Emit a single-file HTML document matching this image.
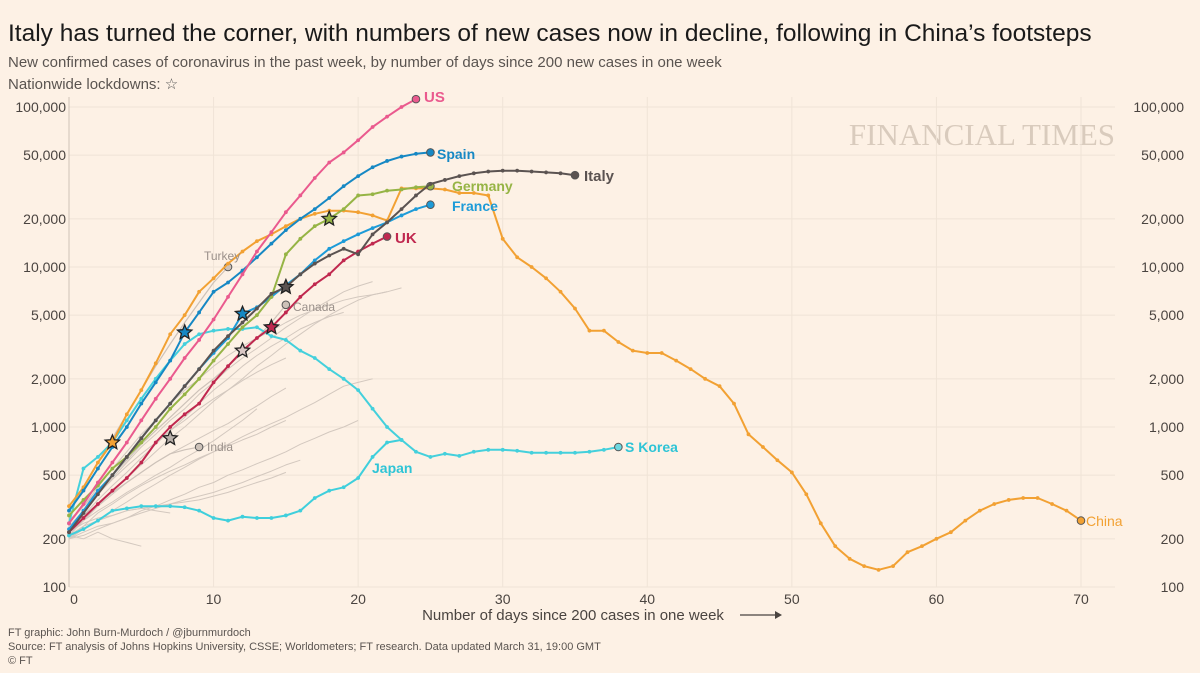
<!DOCTYPE html>
<html><head><meta charset="utf-8">
<style>
html,body{margin:0;padding:0;background:#fdf1e5;}
body{width:1200px;height:673px;overflow:hidden;font-family:"Liberation Sans",sans-serif;}
svg{display:block}
</style></head>
<body>
<svg id="chart" width="1200" height="673" viewBox="0 0 1200 673">
<rect width="1200" height="673" fill="#fdf1e5"/>
<text x="8" y="41" font-size="24.5" fill="#1a1a1a">Italy has turned the corner, with numbers of new cases now in decline, following in China’s footsteps</text>
<text x="8" y="67" font-size="15" fill="#5a5450">New confirmed cases of coronavirus in the past week, by number of days since 200 new cases in one week</text>
<text x="8" y="89" font-size="15" fill="#5a5450">Nationwide lockdowns: <tspan font-size="15" fill="#555">☆</tspan></text>
<text x="1115" y="145" font-size="31" text-anchor="end" fill="#d9cbbd" font-family="Liberation Serif, serif">FINANCIAL TIMES</text>
<g id="grid"></g><g id="series"></g><g id="labels"></g>
<text x="573" y="620" font-size="15" fill="#4a4440" text-anchor="middle">Number of days since 200 cases in one week</text>
<line x1="740" y1="615" x2="775" y2="615" stroke="#4a4440" stroke-width="1.2"/>
<polygon points="775,611 782,615 775,619" fill="#4a4440"/>
<text x="8" y="636" font-size="11" fill="#5a5450">FT graphic: John Burn-Murdoch / @jburnmurdoch</text>
<text x="8" y="650" font-size="11" fill="#5a5450">Source: FT analysis of Johns Hopkins University, CSSE; Worldometers; FT research. Data updated March 31, 19:00 GMT</text>
<text x="8" y="664" font-size="11" fill="#5a5450">© FT</text>
</svg>
<script>
const xTicks=[0,10,20,30,40,50,60,70];
const yTicks=[100,200,500,1000,2000,5000,10000,20000,50000,100000];
const yTickLabels=["100","200","500","1,000","2,000","5,000","10,000","20,000","50,000","100,000"];
const gray1=[230,300,380,480,600,750,900,1100,1300,1600,1900,2300,2700,3100,3600,4200,4800,5500,6200,7000,7600,8100];
const gray2=[210,260,320,400,480,580,700,850,1000,1200,1450,1700,2000,2400,2800,3300,3800,4400,5000,5600,6200,6700,7000,7400];
const gray3=[250,320,420,550,700,900,1100,1400,1700,2000,2400,2800,3200,3600,4000,4500,5000,5400,5800,6200,6500,6700,7000];
const gray4=[220,280,350,430,520,640,780,950,1150,1400,1700,2000,2400,2800,3200,3600,4100,4500,4900,5200];
const gray5=[200,230,260,300,340,390,440,500,560,630,700,780,870,960,1050,1150,1280,1420,1600,1800,1900,2000];
const gray6=[200,210,230,250,270,300,320,350,380,420,450,500,540,590,640,700,780,850,930,1000,1100];
const gray7=[210,260,320,380,450,520,600,680,760,850,950,1050,1200,1350,1550,1750];
const gray8=[200,240,290,330,380,430,480,530,580,640,700,760,830,900,1000,1100];
const gray9=[240,300,380,470,570,680,800,950,1100,1300,1500,1700,1950,2200,2450,2700];
const gray10=[220,260,300,340,390,440,500,560,640,720,820,950,1100,1300];
const gray11=[200,220,240,250,270,290,310,330,350,370,390,420,450,490,530,580,620];
const gray12=[210,240,260,280,300,310,320,330,340,350,370,390,420,450,480,520];
const gray13=[210,200,220,200,190,180];
const gray14=[220,250,270,280,300,310,300,290];
const turkey=[300,420,600,850,1200,1700,2400,3300,4500,6000,8000,10000];
const india=[230,280,330,390,450,520,600,680,720,750];
const canada=[260,320,400,500,620,780,950,1150,1400,1700,2000,2400,2900,3600,4500,5800];
const japan=[210,230,260,300,310,320,320,320,315,300,270,260,275,270,270,280,300,360,400,420,480,650,800,830];
const skorea=[250,550,650,800,1100,1500,2000,2600,3300,3800,4000,4100,4100,4200,3700,3500,3000,2700,2300,2000,1700,1300,1000,830,700,650,680,660,700,720,720,710,690,690,690,690,700,720,750];
const china=[320,420,600,800,1200,1700,2500,3800,5000,7000,8500,10500,12500,14500,16000,18000,20000,21500,22500,22500,22000,21000,19500,31000,31000,31000,30500,29000,29000,28000,15000,11500,10000,8500,7000,5500,4000,4000,3400,3000,2900,2900,2600,2300,2000,1800,1400,900,750,620,520,380,250,180,150,135,128,135,165,180,200,220,260,300,330,350,360,360,330,300,260];
const uk=[220,270,330,400,480,600,800,1000,1200,1400,1900,2400,3000,3600,4200,5200,6500,7800,9000,11000,12500,14000,15500];
const france=[230,300,400,500,650,850,1100,1400,1800,2300,2900,3600,5100,5600,6500,7700,9000,11000,13000,14500,16000,17500,19000,21000,23000,24500];
const germany=[280,350,430,550,650,800,1000,1300,1600,2000,2600,3300,4200,5000,6500,12000,15000,18000,20000,23000,28000,28500,30000,30500,31500,32000];
const italy=[220,290,380,500,650,850,1100,1400,1800,2300,3000,3700,4500,5500,6800,7500,9000,10500,11800,13000,12000,16000,19000,23000,28000,33000,35000,37000,38500,39500,40000,40000,39500,39000,38500,37500];
const spain=[300,400,550,750,1000,1400,1900,2600,3900,5200,7000,8000,9500,11500,14000,17000,20000,23000,27000,32000,37000,42000,46000,49000,51000,52000];
const us=[250,330,450,600,800,1100,1500,2000,2700,3500,4700,6500,9000,12500,16500,22000,28000,36000,45000,52000,62000,75000,87000,100000,112000];
const starDays=[3,8,12,12,7,14,15,18];
const starValues=[800,3900,5100,3000,850,4200,7500,20000];
const starFills=["#f2a133","#1688c4","#1688c4","#d9c7c4","#b9b0aa","#c0284f","#5b5351","#96b445"];

const X0=69,XS=14.457,Y0=107,DEC=160;
function xs(d){return X0+d*XS;}
function ys(v){return Y0+(5-Math.log10(v))*DEC;}
const NS="http://www.w3.org/2000/svg";
function mk(tag,attrs,parent){const e=document.createElementNS(NS,tag);for(const k in attrs)e.setAttribute(k,attrs[k]);parent.appendChild(e);return e;}
const grid=document.getElementById('grid'),ser=document.getElementById('series'),lab=document.getElementById('labels');

yTicks.forEach((t,i)=>{
  const l=mk('line',{x1:X0,x2:1115,y1:ys(t),y2:ys(t),stroke:'#efe3d6','stroke-width':1},grid);
  
  
  const a=mk('text',{x:66,y:ys(t)+5,'font-size':14,fill:'#4a4440','text-anchor':'end'},grid);a.textContent=yTickLabels[i];
  
  
  const b=mk('text',{x:1184,y:ys(t)+5,'font-size':14,fill:'#4a4440','text-anchor':'end'},grid);b.textContent=yTickLabels[i];
  
  
});
xTicks.forEach(t=>{
  const l=mk('line',{x1:xs(t),x2:xs(t),y1:ys(100000)-10,y2:ys(100),stroke:t===0?'#cfc3b8':'#f0e4d7','stroke-width':1},grid);
  
  
  const a=mk('text',{x:xs(t)+(t===0?5:0),y:604,'font-size':14,fill:'#4a4440','text-anchor':'middle'},grid);a.textContent=String(t);
  
  
});

function line(vals,color,w,name,dots,end){
  const pts=vals.map((v,i)=>xs(i).toFixed(1)+','+ys(v).toFixed(1)).join(' ');
  const g=mk('g',{},ser);
  
  
  mk('polyline',{points:pts,fill:'none',stroke:color,'stroke-width':w,'stroke-linejoin':'round'},g);
  if(dots) vals.forEach((v,i)=>mk('circle',{cx:xs(i),cy:ys(v),r:1.9,fill:color},g));
  if(end){const n=vals.length-1;mk('circle',{cx:xs(n),cy:ys(vals[n]),r:3.8,fill:end,stroke:'#555','stroke-width':1},g);}
}
[gray1,gray2,gray3,gray4,gray5,gray6,gray7,gray8,gray9,gray10,gray11,gray12,gray13,gray14].forEach((s,i)=>line(s,'#d3c8bf',1,'gray-country-line-'+(i+1),false,null));
line(turkey,'#cdc2b9',1.2,'turkey-line',false,'#cdc2b9');
line(india,'#cdc2b9',1.2,'india-line',false,'#cdc2b9');
line(canada,'#cdc2b9',1.2,'canada-line',false,'#cdc2b9');
line(japan,'#3fcfdc',2,'japan-line',true,null);
line(skorea,'#44d0dc',2,'s-korea-line',true,'#6fd8e0');
line(china,'#f2a133',2,'china-line',true,'#f2a133');
line(uk,'#c0284f',2,'uk-line',true,'#c0284f');
line(france,'#1d9bd8',2,'france-line',true,'#1d9bd8');
line(germany,'#96b445',2,'germany-line',true,'#96b445');
line(italy,'#5b5351',2,'italy-line',true,'#5b5351');
line(spain,'#1688c4',2,'spain-line',true,'#1688c4');
line(us,'#ea5a8e',2,'us-line',true,'#ea5a8e');

function starPts(cx,cy,R,r){let p=[];for(let i=0;i<10;i++){const a=-Math.PI/2+i*Math.PI/5;const rr=i%2?r:R;p.push((cx+rr*Math.cos(a)).toFixed(1)+','+(cy+rr*Math.sin(a)).toFixed(1));}return p.join(' ');}
starDays.forEach((d,i)=>{
  const s=mk('polygon',{points:starPts(xs(d),ys(starValues[i]),7.5,3.4),fill:starFills[i],stroke:'#222','stroke-width':1.3},ser);
  
  
});

const labs=[["US",424,102,"#ea5a8e",15,true],["Spain",437,159,"#1688c4",14,true],["Italy",584,181,"#5b5351",15,true],["Germany",452,191,"#96b445",14,true],["France",452,211,"#1d9bd8",14,true],["UK",395,243,"#c0284f",15,true],["S Korea",625,452,"#2ec4d6",14,true],["Japan",372,473,"#2ec4d6",14,true],["China",1086,526,"#f2a133",14,false],["Turkey",204,260,"#9a908a",12,false],["Canada",293,311,"#9a908a",12,false],["India",207,451,"#9a908a",12,false]];
labs.forEach(l=>{
  const t=mk('text',{x:l[1],y:l[2],'font-size':l[4],fill:l[3],'font-weight':l[5]?'bold':'normal'},lab);
  t.textContent=l[0];
  
  
});
</script>
</body></html>
